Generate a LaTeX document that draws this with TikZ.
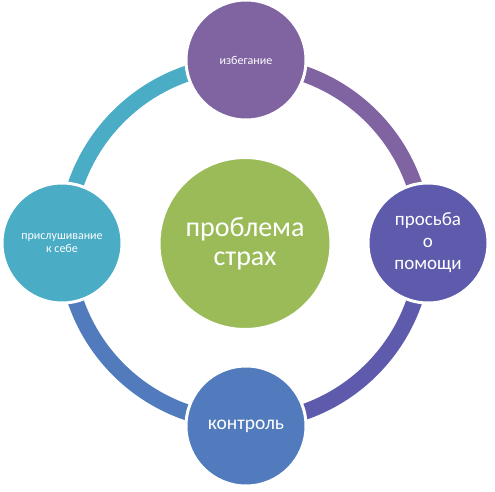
\documentclass[tikz,border=0pt]{standalone}
\usepackage{fontspec}
\setmainfont{Carlito}
\definecolor{cTop}{HTML}{8064A2}
\definecolor{cRight}{HTML}{5E5BAD}
\definecolor{cBottom}{HTML}{527BBD}
\definecolor{cLeft}{HTML}{4BACC6}
\definecolor{cCenter}{HTML}{9BBB59}
\begin{document}
\begin{tikzpicture}[x=1pt,y=1pt]
\useasboundingbox (0,0) rectangle (495,-492);
\tikzset{
  bub/.style={circle, draw=white, line width=3pt, minimum size=120pt, inner sep=0pt, text=white, align=center},
  band/.style={line width=16pt}
}
\coordinate (O) at (245,-243);
% ring segments
\draw[band, cLeft]   (O) ++(180:179) arc[start angle=180, end angle=90,  radius=179];
\draw[band, cTop]    (O) ++(90:179)  arc[start angle=90,  end angle=0,   radius=179];
\draw[band, cRight]  (O) ++(0:179)   arc[start angle=0,   end angle=-90, radius=179];
\draw[band, cBottom] (O) ++(-90:179) arc[start angle=-90, end angle=-180, radius=179];
% circles
\node[bub, fill=cCenter, minimum size=172pt, font=\fontsize{28}{29}\selectfont] (center) at (245,-243.5) {проблема\\страх};
\node[bub, fill=cTop, font=\fontsize{12}{13}\selectfont] (top) at (246,-60) {избегание};
\node[bub, fill=cRight, font=\fontsize{19}{22}\selectfont] (right) at (428,-243) {просьба\\о\\помощи};
\node[bub, fill=cBottom, font=\fontsize{19.5}{22}\selectfont] (bottom) at (246,-426) {контроль};
\node[bub, fill=cLeft, font=\fontsize{12}{13.5}\selectfont] (left) at (62,-243) {прислушивание\\к себе};
\end{tikzpicture}
\end{document}
